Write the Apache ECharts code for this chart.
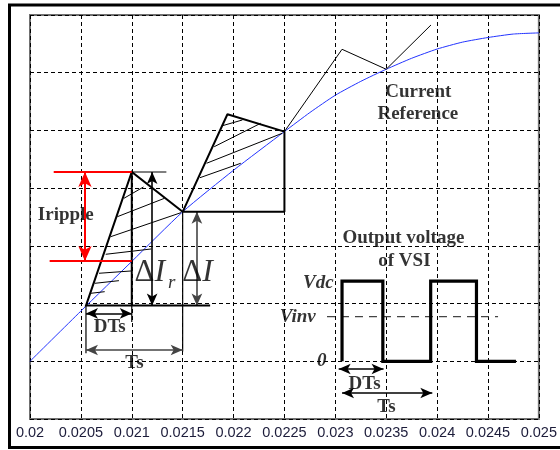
<!DOCTYPE html>
<html><head><meta charset="utf-8">
<script src="https://cdn.jsdelivr.net/npm/echarts@6/dist/echarts.min.js"></script>
<style>html,body{margin:0;padding:0;background:#fff}#c{width:560px;height:450px}</style>
</head><body><div id="c"></div>
<script>
// ---- tick labels ----
const xTickLabels = ['0.02','0.0205','0.021','0.0215','0.022','0.0225','0.023','0.0235','0.024','0.0245','0.025'];

// ---- current reference (blue) ----
const refTime    = [0.02, 0.0205, 0.021, 0.0215, 0.022, 0.0225, 0.02275, 0.023, 0.02325, 0.0235, 0.02375, 0.024, 0.02425, 0.0245, 0.02475, 0.025];
const refCurrent = [1.0, 1.87, 2.73, 3.59, 4.31, 4.98, 5.31, 5.61, 5.85, 6.06, 6.25, 6.41, 6.53, 6.61, 6.67, 6.69];

// ---- inductor current ripple paths ----
const ripple1Path = [[0.02177, 1.965], [0.02055, 1.965], [0.021, 4.28], [0.0215, 3.59]];
const ripple1Side = [[0.021, 4.28], [0.021, 1.965]];
const ripple2Path = [[0.0215, 3.59], [0.02194, 5.28], [0.0225, 4.98], [0.0225, 3.59], [0.0215, 3.59]];
const ripple3Path = [[0.0225, 4.98], [0.023066, 6.406], [0.0235, 6.06], [0.02394, 6.827]];

// thin helper segments
const thinSegments = [
  [[0.021, 1.965], [0.021, 1.68]],
  [[0.021, 4.28], [0.02134, 4.28]],
  [[0.02055, 1.965], [0.02055, 1.14]],
  [[0.0215, 3.59], [0.0215, 1.17]]
];
// hatch lines
const hatch1 = [
  [[0.020923, 3.824], [0.021115, 4.020]],
  [[0.020858, 3.505], [0.021321, 3.824]],
  [[0.020793, 3.159], [0.021484, 3.575]],
  [[0.020744, 2.854], [0.021191, 2.946]],
  [[0.020678, 2.525], [0.020995, 2.565]],
  [[0.020636, 2.351], [0.020874, 2.397]],
  [[0.020597, 2.178], [0.020734, 2.206]]
];
const hatch2 = [
  [[0.021891, 5.082], [0.022087, 5.181]],
  [[0.021810, 4.718], [0.022267, 5.124]],
  [[0.021735, 4.431], [0.022479, 4.951]],
  [[0.021670, 4.181], [0.022071, 4.431]]
];

// ---- ripple band (red) ----
const rippleBand = [
  [[0.020233, 4.28], [0.021, 4.28]],
  [[0.020193, 2.738], [0.021, 2.738]]
];

// ---- inverter output voltage (PWM) ----
const pwmTime  = [0.023066, 0.023066, 0.023467, 0.023467, 0.023937, 0.023937, 0.024387, 0.024387, 0.024775];
const pwmLevel = [1.0, 2.39, 2.39, 1.0, 1.0, 2.39, 2.39, 1.0, 1.0];
const vinvLine = [[0.022918, 1.773], [0.024599, 1.773]];

// ---- dimension arrows ----
const redArrow   = [[0.02054, 4.28], [0.02054, 2.738]];
const blackArrows = [
  [[0.0212, 4.28], [0.0212, 1.965]],
  [[0.02055, 1.83], [0.021, 1.83]],
  [[0.023033, 0.866], [0.023474, 0.866]],
  [[0.023066, 0.45], [0.023953, 0.45]]
];
const grayArrows = [
  [[0.02164, 3.59], [0.02164, 1.965]],
  [[0.02055, 1.196], [0.0215, 1.196]]
];

// ---- annotation texts ----
const serifBold = {fontFamily: 'Liberation Serif', fontWeight: 'bold', fontSize: 19, color: '#000'};
const notes = [
  {text: 'Iripple', x: 0.020352, y: 3.535, align: 'center'},
  {text: 'DTs', x: 0.020783, y: 1.586, align: 'center'},
  {text: 'Ts', x: 0.021027, y: 0.97, align: 'center'},
  {text: 'Current', x: 0.023816, y: 5.666, align: 'center'},
  {text: 'Reference', x: 0.023811, y: 5.285, align: 'center'},
  {text: 'Output voltage', x: 0.023669, y: 3.136, align: 'center'},
  {text: 'of VSI', x: 0.023679, y: 2.738, align: 'center'},
  {text: 'DTs', x: 0.023288, y: 0.606, align: 'center'},
  {text: 'Ts', x: 0.023503, y: 0.208, align: 'center'},
  {text: 'Vdc', x: 0.022984, y: 2.357, align: 'right', italic: true},
  {text: 'Vinv', x: 0.022808, y: 1.767, align: 'right', italic: true},
  {text: '0', x: 0.022867, y: 1.005, align: 'center', italic: true}
];
const deltaNotes = [
  {text: '{d|Δ}{i|I}{s|r}', x: 0.021027, y: 2.53},
  {text: '{d|Δ}{i|I}', x: 0.021497, y: 2.53}
];

function segSeries(list, style, z) {
  return list.map(c => ({
    type: 'line', silent: true, symbol: 'none', data: c,
    lineStyle: Object.assign({}, style), z: z
  }));
}
function arrowData(list, color) {
  return list.map(p => [{coord: p[0], lineStyle: {color: color}}, {coord: p[1]}]);
}

const chart = echarts.init(document.getElementById('c'), null, {renderer: 'canvas'});
const series = [
  {
    name: 'Current Reference', type: 'line', silent: true, symbol: 'none', smooth: 0.2,
    data: refTime.map((t, i) => [t, refCurrent[i]]),
    lineStyle: {color: '#2233ff', width: 1}, z: 3
  }
]
.concat(segSeries(hatch1.concat(hatch2), {color: '#000', width: 1}, 4))
.concat(segSeries(thinSegments, {color: '#000', width: 1.2}, 4))
.concat([
  {type: 'line', silent: true, symbol: 'none', data: ripple1Path, lineStyle: {color: '#000', width: 2, join: 'miter'}, z: 5},
  {type: 'line', silent: true, symbol: 'none', data: ripple1Side, lineStyle: {color: '#000', width: 2}, z: 5},
  {type: 'line', silent: true, symbol: 'none', data: ripple2Path, lineStyle: {color: '#000', width: 2}, z: 5},
  {type: 'line', silent: true, symbol: 'none', data: ripple3Path, lineStyle: {color: '#000', width: 1}, z: 5},
  {
    type: 'line', silent: true, symbol: 'none',
    data: pwmTime.map((t, i) => [t, pwmLevel[i]]),
    lineStyle: {color: '#000', width: 3.2, join: 'miter'}, z: 5
  },
  {type: 'line', silent: true, symbol: 'none', data: vinvLine, lineStyle: {color: '#444', width: 1.2, type: [8, 6]}, z: 4}
])
.concat(segSeries(rippleBand, {color: '#ff0000', width: 2}, 6))
.concat([
  {
    type: 'line', silent: true, symbol: 'none', data: [], z: 7,
    markLine: {
      silent: true, symbol: ['arrow', 'arrow'], symbolSize: [10, 15],
      label: {show: false}, emphasis: {disabled: true},
      lineStyle: {type: 'solid', width: 2, color: '#ff0000'},
      data: arrowData([redArrow], '#ff0000')
    }
  },
  {
    type: 'line', silent: true, symbol: 'none', data: [], z: 7,
    markLine: {
      silent: true, symbol: ['arrow', 'arrow'], symbolSize: [8, 12],
      label: {show: false}, emphasis: {disabled: true},
      lineStyle: {type: 'solid', width: 1.6, color: '#000'},
      data: arrowData(blackArrows, '#000')
    }
  },
  {
    type: 'line', silent: true, symbol: 'none', data: [], z: 7,
    markLine: {
      silent: true, symbol: ['arrow', 'arrow'], symbolSize: [8, 12],
      label: {show: false}, emphasis: {disabled: true},
      lineStyle: {type: 'solid', width: 1.6, color: '#444'},
      data: arrowData(grayArrows, '#444')
    }
  },
  {
    type: 'scatter', silent: true, symbolSize: 0, z: 10,
    data: notes.map(n => ({
      value: [n.x, n.y],
      label: Object.assign({}, serifBold, {
        show: true, position: [0, 0], formatter: n.text,
        align: n.align, verticalAlign: 'middle',
        fontStyle: n.italic ? 'italic' : 'normal'
      })
    }))
  },
  {
    type: 'scatter', silent: true, symbolSize: 0, z: 10,
    data: deltaNotes.map(n => ({
      value: [n.x, n.y],
      label: {
        show: true, position: [0, 0], formatter: n.text,
        align: 'left', verticalAlign: 'middle',
        rich: {
          d: {fontFamily: 'Liberation Serif', fontSize: 31, color: '#000'},
          i: {fontFamily: 'Liberation Serif', fontSize: 32, fontStyle: 'italic', color: '#000'},
          s: {fontFamily: 'Liberation Serif', fontSize: 19, fontStyle: 'italic', color: '#000', padding: [20, 0, 0, 3]}
        }
      }
    }))
  }
]);

const option = {
  animation: false,
  grid: {left: 30, right: 19, top: 15, bottom: 31, show: true, borderColor: '#707070', borderWidth: 2, backgroundColor: 'transparent'},
  graphic: [{
    type: 'rect', silent: true, z: 100,
    shape: {x: 9.5, y: 5, width: 560, height: 442.5},
    style: {fill: 'none', stroke: '#000', lineWidth: 3}
  }],
  xAxis: {
    type: 'value', min: 0.02, max: 0.025, interval: 0.0005,
    axisLine: {show: false}, axisTick: {show: false},
    axisLabel: {
      margin: 6, fontFamily: 'Liberation Sans', fontSize: 14.5, color: '#1c1c3a',
      formatter: function (v) { return xTickLabels[Math.round((v - 0.02) / 0.0005)]; }
    },
    splitLine: {show: true, lineStyle: {color: '#000', width: 1, type: [4, 3]}}
  },
  yAxis: {
    type: 'value', min: 0, max: 7, interval: 1,
    axisLine: {show: false}, axisTick: {show: false}, axisLabel: {show: false},
    splitLine: {show: true, lineStyle: {color: '#000', width: 1, type: [4, 3]}}
  },
  series: series
};
chart.setOption(option);
</script>
</body></html>
